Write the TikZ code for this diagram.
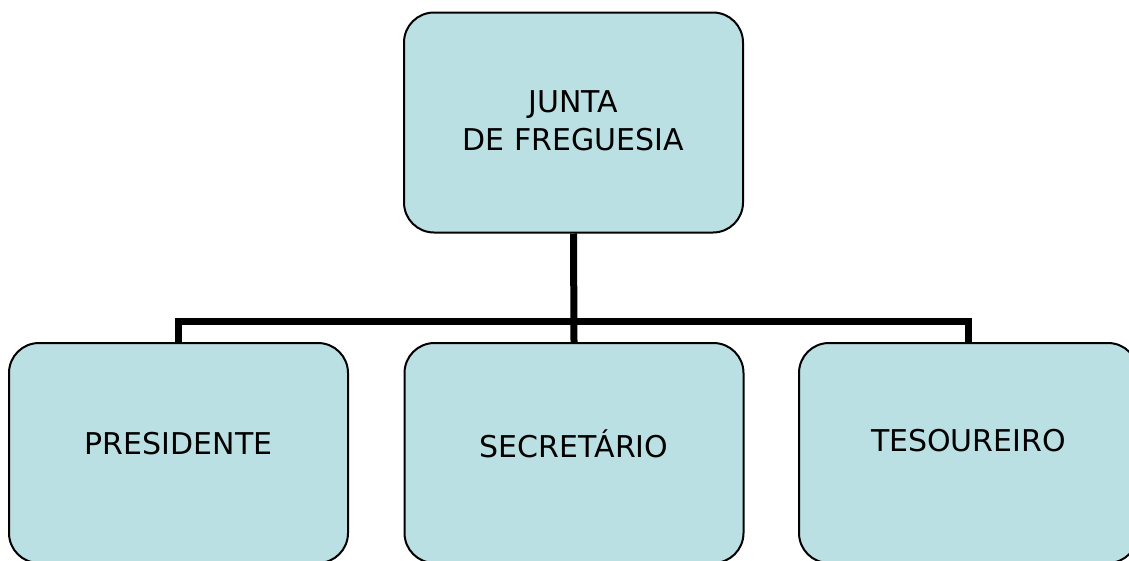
\documentclass[tikz,border=0pt]{standalone}
\usepackage{fontspec}
\setmainfont{DejaVu Sans}
\definecolor{boxfill}{RGB}{186,224,227}
\begin{document}
\begin{tikzpicture}[x=1pt,y=-1pt,
  orgbox/.style={draw=black,line width=2pt,fill=boxfill,rounded corners=30pt,
    minimum width=339pt,minimum height=220pt,inner sep=0pt},
  lbl/.style={font=\fontsize{30}{38}\selectfont,align=center,inner sep=0pt},
  conn/.style={line width=7pt}]
\useasboundingbox (0,0) rectangle (1129,560);
\node[orgbox] (top) at (573.5,122.5) {};
\node[orgbox] (pres) at (178.5,453) {};
\node[orgbox] (sec) at (574,453) {};
\node[orgbox] (tes) at (968.5,453) {};
\coordinate (bar) at (574,321);
\draw[conn] (top.south) -- (sec.north);
\draw[conn] (pres.north) |- (bar) -| (tes.north);
\node[lbl] (ttop) at (573.5,121) {JUNTA\\DE FREGUESIA};
\node[lbl] (tpres) at (178.5,444) {PRESIDENTE};
\node[lbl] (tsec) at (574,444) {SECRETÁRIO};
\node[lbl] (ttes) at (968.5,441) {TESOUREIRO};
\end{tikzpicture}
\end{document}
